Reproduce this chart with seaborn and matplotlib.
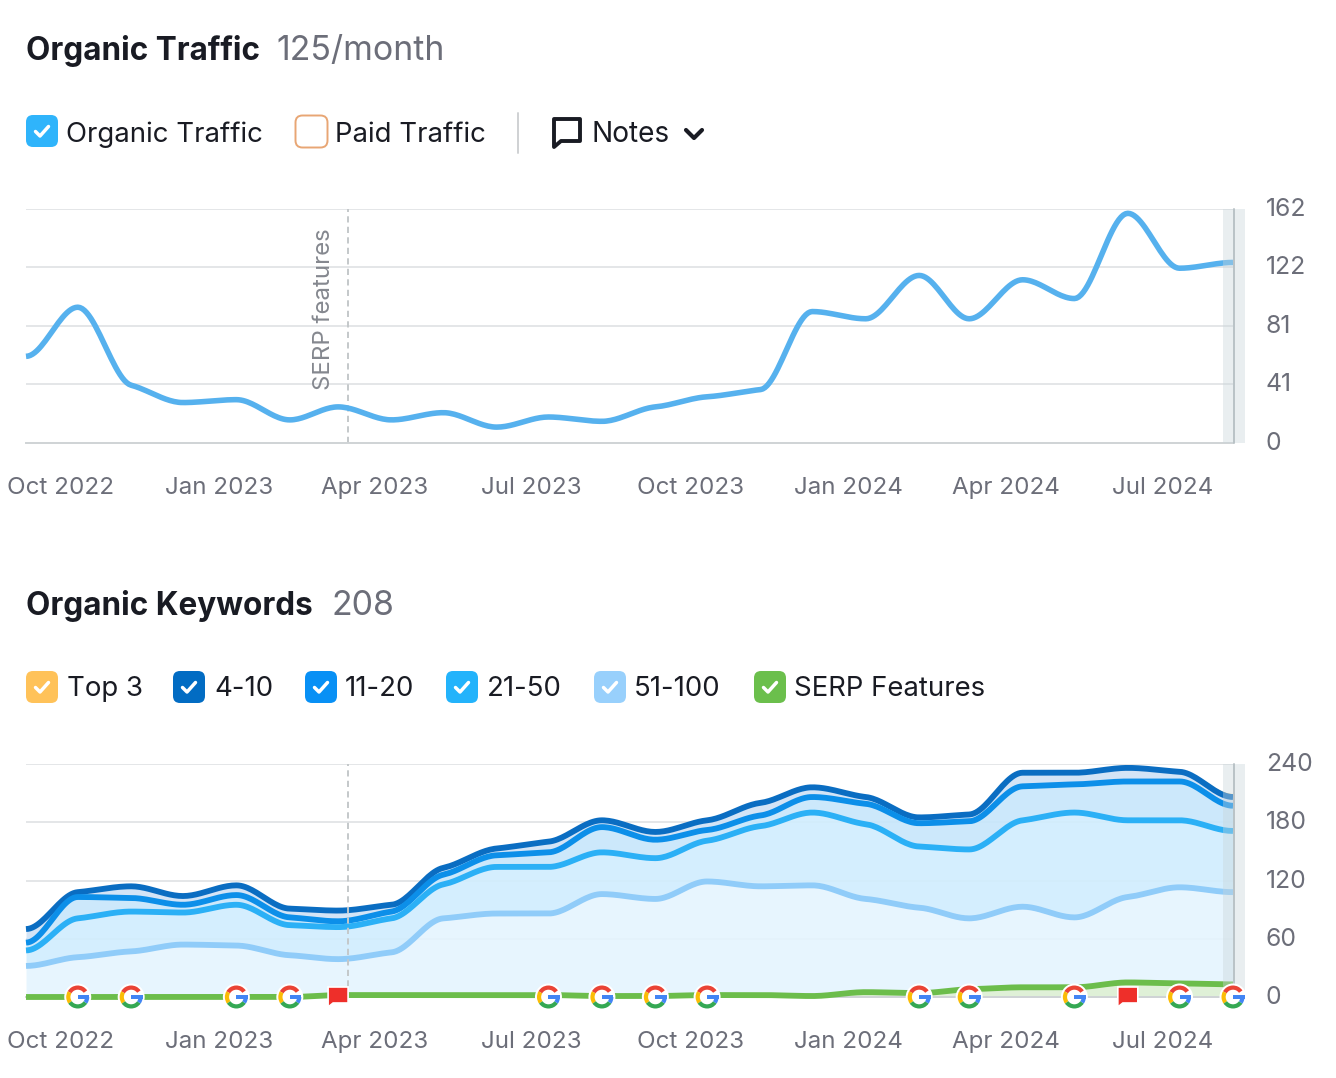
import datetime as dt
import numpy as np
import seaborn as sns
import matplotlib
matplotlib.use("Agg")
import matplotlib.pyplot as plt
import matplotlib.dates as mdates
from matplotlib.patches import FancyBboxPatch, Wedge, Circle, Polygon, Rectangle

W, H = 1336, 1078

# Monthly observations, Sep 2022 to Aug 2024
months = [dt.date(2022 + (8 + i) // 12, (8 + i) % 12 + 1, 1) for i in range(24)]
traffic = [60, 94, 40, 28, 30, 16, 25, 16, 21, 11, 18, 15,
           25, 32, 37, 91, 86, 116, 86, 113, 100, 159, 121, 125]
kw_top3 = [70, 108, 114, 104, 115, 91, 90, 95, 133, 153, 160, 182,
           170, 182, 200, 216, 206, 185, 188, 232, 232, 237, 233, 208]
kw_4_10 = [70, 108, 114, 104, 115, 91, 89, 95, 133, 153, 160, 182,
           170, 182, 200, 216, 206, 185, 188, 231, 231, 236, 232, 206]
kw_11_20 = [56, 103, 102, 95, 105, 82, 78, 88, 126, 146, 149, 175,
            162, 172, 187, 206, 199, 179, 181, 217, 219, 222, 222, 197]
kw_21_50 = [48, 81, 88, 87, 95, 74, 72, 81, 116, 134, 134, 149,
            143, 161, 176, 190, 178, 155, 152, 182, 190, 182, 182, 171]
kw_51_100 = [32, 41, 47, 54, 53, 43, 39, 46, 81, 86, 86, 106,
             101, 119, 114, 115, 101, 92, 81, 93, 82, 103, 113, 108]
kw_serp = [0, 0, 0, 0, 0, 0, 2, 2, 2, 2, 2, 1,
           1, 2, 2, 1, 5, 4, 8, 10, 10, 15, 14, 13]

traffic_ticks = [0, 41, 81, 122, 162]
keyword_ticks = [0, 60, 120, 180, 240]
quarter_labels = ["Oct 2022", "Jan 2023", "Apr 2023", "Jul 2023",
                  "Oct 2023", "Jan 2024", "Apr 2024", "Jul 2024"]
quarter_dates = [dt.date(2022, 10, 1), dt.date(2023, 1, 1), dt.date(2023, 4, 1), dt.date(2023, 7, 1),
                 dt.date(2023, 10, 1), dt.date(2024, 1, 1), dt.date(2024, 4, 1), dt.date(2024, 7, 1)]
google_updates = [dt.date(2022, 10, 1), dt.date(2022, 11, 1), dt.date(2023, 1, 1), dt.date(2023, 2, 1),
                  dt.date(2023, 7, 1), dt.date(2023, 8, 1), dt.date(2023, 9, 1), dt.date(2023, 10, 1),
                  dt.date(2024, 2, 1), dt.date(2024, 3, 1), dt.date(2024, 5, 1), dt.date(2024, 7, 1),
                  dt.date(2024, 8, 1)]
note_flags = [dt.date(2023, 3, 1), dt.date(2024, 6, 1)]
serp_note_date = dt.date(2023, 3, 6)

INK = "#191b23"
GREY = "#6c6e79"
GRID = "#e4e6e8"

sns.set_theme(style="white")
plt.rcParams["font.family"] = ["Inter", "DejaVu Sans"]

fig = plt.figure(figsize=(W / 100, H / 100), dpi=100, facecolor="white")


def panel(top, bottom):
    return fig.add_axes([26 / W, 1 - bottom / H, 1207 / W, (bottom - top) / H])


def monotone(x, y, per_segment=24, tension=0.4):
    """Monotone cubic through the observations with flattened tangents at each month."""
    x, y = np.asarray(x, float), np.asarray(y, float)
    h = np.diff(x)
    s = np.diff(y) / h
    m = np.zeros_like(y)
    for i in range(1, len(y) - 1):
        if s[i - 1] * s[i] > 0:
            p = (s[i - 1] * h[i] + s[i] * h[i - 1]) / (h[i - 1] + h[i])
            m[i] = (np.sign(s[i - 1]) + np.sign(s[i])) * min(abs(s[i - 1]), abs(s[i]), 0.5 * abs(p))
    m *= tension
    xs, ys = [], []
    for i in range(len(h)):
        t = np.linspace(0, 1, per_segment, endpoint=i == len(h) - 1)
        xs.append(x[i] + t * h[i])
        ys.append((2 * t**3 - 3 * t**2 + 1) * y[i] + (t**3 - 2 * t**2 + t) * h[i] * m[i]
                  + (-2 * t**3 + 3 * t**2) * y[i + 1] + (t**3 - t**2) * h[i] * m[i + 1])
    return np.concatenate(xs), np.concatenate(ys)


xnum = mdates.date2num(months)
day0 = xnum[0]
px_per_day = 1207 / (xnum[-1] - xnum[0])


def style_panel(ax, ymax, ticks):
    ax.set_xlim(xnum[0], xnum[-1])
    ax.set_ylim(0, ymax)
    ax.patch.set_alpha(0)
    for side in ["top", "left", "right"]:
        ax.spines[side].set_visible(False)
    ax.spines["bottom"].set_color("#cfd3d5")
    ax.spines["bottom"].set_linewidth(1.4)
    ax.yaxis.tick_right()
    ax.set_yticks(ticks)
    ax.set_yticklabels([str(t) for t in ticks], fontsize=17.8, color=GREY)
    ax.set_xticks(mdates.date2num(quarter_dates))
    ax.set_xticklabels(quarter_labels, fontsize=17.4, color=GREY)
    ax.tick_params(axis="y", length=0, pad=23.5)
    ax.tick_params(axis="x", length=0, pad=24.5)
    ax.set_xlabel("")
    ax.set_ylabel("")
    ax.grid(False)
    for t in ticks:
        if t > 0:
            ax.axhline(t, color=GRID, lw=1.4, zorder=1)
    shift = matplotlib.transforms.ScaledTranslation(-17 / 100, 0, fig.dpi_scale_trans)
    for lab in ax.get_xticklabels():
        lab.set_transform(lab.get_transform() + shift)
    shift_y = matplotlib.transforms.ScaledTranslation(0, 2 / 100, fig.dpi_scale_trans)
    for lab in ax.get_yticklabels():
        lab.set_transform(lab.get_transform() + shift_y)
    # Current, still incomplete period
    ax.axvspan(day0 + (1223 - 26) / px_per_day, day0 + (1245 - 26) / px_per_day,
               color="#c9d5da", alpha=0.4, lw=0, zorder=6, clip_on=False)
    ax.axvline(day0 + (1233.5 - 26) / px_per_day, color="#b9c2c6", lw=1.4, zorder=6, clip_on=False)


def draw_line(ax, values, color, lw, zorder):
    xs, ys = monotone(xnum, values)
    before = len(ax.lines)
    sns.lineplot(x=xs, y=ys, ax=ax, color=color, linewidth=lw, errorbar=None,
                 sort=False, estimator=None, zorder=zorder)
    for line in ax.lines[before:]:
        line.set_clip_on(False)
        line.set_solid_capstyle("butt")
        line.set_solid_joinstyle("round")
    return xs, ys


# Organic traffic panel
ax1 = panel(209, 443)
style_panel(ax1, 162, traffic_ticks)
serp_x = mdates.date2num(serp_note_date) + 0.6
ax1.axvline(serp_x, color="#c4c8ca", lw=1.4, ls=(0, (3.2, 2.2)), zorder=2)
ax1.text(serp_x - 14, 92.4, "SERP features", rotation=90, ha="center", va="center",
         fontsize=17.3, color="#85888f")
draw_line(ax1, traffic, "#56b1ee", 4.0, 5)

# Organic keywords panel
ax2 = panel(764, 997)
style_panel(ax2, 240, keyword_ticks)
ax2.plot([serp_x] * 2, [0, 240], color="#c4c8ca", lw=1.4, ls=(0, (3.2, 2.2)), zorder=4)

layers = [
    (kw_top3, "#f6c35c", 1.6, None),
    (kw_4_10, "#0a6dc2", 4.2, "#cfe2f6"),
    (kw_11_20, "#0c8fe9", 4.2, "#c7e6fb"),
    (kw_21_50, "#2bb0f6", 4.2, "#d0edfe"),
    (kw_51_100, "#90ccf9", 4.2, "#e5f4fe"),
    (kw_serp, "#6cbd4b", 4.2, "#dcefd3"),
]
curves = [monotone(xnum, v) for v, _, _, _ in layers]
for i, (vals, col, lw, fill) in enumerate(layers):
    if fill is not None:
        lower = curves[i + 1][1] if i + 1 < len(layers) else np.zeros_like(curves[i][1])
        ax2.fill_between(curves[i][0], lower, curves[i][1], color=fill, alpha=0.9, lw=0, zorder=2)
for i, (vals, col, lw, fill) in enumerate(layers):
    draw_line(ax2, vals, col, lw, 3 + i * 0.1)
ax2.lines[-1].set_zorder(5)

# Page furniture drawn in figure pixels
ui = fig.add_axes([0, 0, 1, 1], zorder=20)
ui.set_xlim(0, W)
ui.set_ylim(H, 0)
ui.axis("off")
ui.patch.set_alpha(0)


def checkbox(x, y, face, checked=True, edge=None):
    ui.add_patch(FancyBboxPatch((x + 7, y + 7), 18, 18, boxstyle="round,pad=7,rounding_size=7",
                                facecolor=face, edgecolor=edge or face, lw=1.4 if edge else 0))
    if checked:
        ui.plot([x + 9.5, x + 14, x + 22.5], [y + 16.5, y + 21, y + 11.5], color="white", lw=2.5,
                solid_capstyle="round", solid_joinstyle="round")


ui.text(26, 51, "Organic Traffic", fontsize=22.7, fontweight="bold", color=INK, va="center")
ui.text(276, 51, "125/month", fontsize=24.4, color=GREY, va="center")
ui.text(26, 606, "Organic Keywords", fontsize=22.7, fontweight="bold", color=INK, va="center")
ui.text(331, 606, "208", fontsize=24.4, color=GREY, va="center")

checkbox(26, 115, "#2fb4fb")
ui.text(66, 134.5, "Organic Traffic", fontsize=19.85, color=INK, va="center")
checkbox(295.5, 115.5, "white", checked=False, edge="#e8a674")
ui.text(335, 134.5, "Paid Traffic", fontsize=19.85, color=INK, va="center")
ui.plot([518, 518], [113, 153], color="#cfd1d3", lw=1.4)
ui.add_patch(Polygon([(554, 119), (580, 119), (580, 141), (561, 141), (554, 147)], closed=True,
                     facecolor="none", edgecolor=INK, lw=2.8, joinstyle="round"))
ui.text(592, 134, "Notes", fontsize=20.2, color=INK, va="center")
ui.plot([686, 694, 702], [130, 138, 130], color=INK, lw=3.0, solid_capstyle="round", solid_joinstyle="round")

legend_items = [(26, "Top 3", 67, "#ffc259"), (173, "4-10", 214, "#026cc3"), (305, "11-20", 345, "#0890f5"),
                (446, "21-50", 487, "#23b3fb"), (594, "51-100", 634, "#98d0fc"), (754, "SERP Features", 794, "#6bbf4c")]
for bx, label, tx, col in legend_items:
    checkbox(bx, 671, col)
    ui.text(tx, 689.5, label, fontsize=19.85, color=INK, va="center")


def to_ui(ax, date, value):
    px, py = ax.transData.transform((mdates.date2num(date), value))
    return px, H - py


def google_badge(cx, cy):
    ui.add_patch(Circle((cx, cy), 13.5, facecolor="white", edgecolor="none", zorder=3))
    arcs = [(-150, -35, "#ea4335"), (-215, -150, "#fbbc05"), (-325, -215, "#34a853"), (-360, -325, "#4285f4")]
    for a, b, col in arcs:
        ui.add_patch(Wedge((cx, cy), 11.5, a, b, width=4.2, facecolor=col, edgecolor="none", zorder=4))
    ui.add_patch(Rectangle((cx, cy - 2.2), 11.5, 4.2, facecolor="#4285f4", edgecolor="none", zorder=4))


def note_flag(cx, cy):
    ui.add_patch(Polygon([(cx - 10, cy - 10), (cx + 10, cy - 10), (cx + 10, cy + 6), (cx - 5, cy + 6), (cx - 10, cy + 10)],
                         closed=True, facecolor="#ee2f2a", edgecolor="white", lw=1.2, zorder=4))


for d in google_updates:
    google_badge(*to_ui(ax2, d, 0))
for d in note_flags:
    note_flag(*to_ui(ax2, d, 0))

fig.savefig("out.png", dpi=100, facecolor="white")
